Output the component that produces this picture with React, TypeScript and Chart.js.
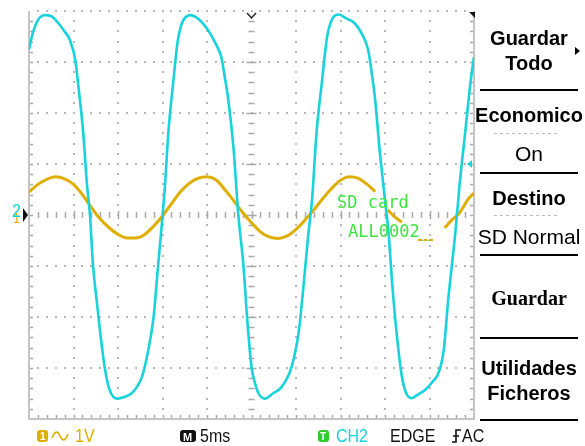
import React, { useEffect, useRef } from "react";
import { Chart, registerables } from "chart.js";
Chart.register(...registerables);

// ---- Data (time in ms, amplitude in screen divisions) ----
const cyanTimes = [0, 0.4, 0.8, 1.2, 1.8, 2.5, 3.3, 4.0, 4.6, 5.2, 5.5, 6.1, 6.5, 6.85, 7.2, 7.6, 8.0, 8.5, 9.0, 9.5, 10.0, 10.7, 11.5, 12.2, 12.7, 13.4, 14.0, 14.5, 14.9, 15.3, 15.65, 16.2, 16.7, 17.1, 17.5, 18.1, 19.0, 20.1, 21.0, 21.6, 22.0, 22.4, 23.0, 23.5, 24.1, 24.5, 25.0, 25.4, 25.8, 26.5, 27.4, 28.4, 29.5, 30.3, 30.8, 31.4, 31.8, 32.3, 32.9, 33.5, 33.9, 34.3, 34.8, 35.7, 36.6, 37.4, 38.1, 38.5, 38.9, 39.4, 40.0, 40.4, 40.8, 41.3, 41.9, 42.4, 43.0, 43.7, 44.5, 45.3, 46.0, 46.6, 47.1, 47.9, 48.4, 49.0, 49.6, 50.0];
const cyanDivs = [3.25, 3.55, 3.75, 3.87, 3.92, 3.9, 3.76, 3.6, 3.43, 3.04, 2.6, 1.6, 0.63, 0.0, -1.0, -1.67, -2.3, -2.98, -3.4, -3.57, -3.6, -3.57, -3.5, -3.35, -3.17, -2.65, -2.0, -1.0, -0.23, 0.63, 1.6, 2.59, 3.4, 3.72, 3.86, 3.92, 3.85, 3.63, 3.35, 3.1, 2.7, 2.25, 1.27, 0.04, -1.0, -2.0, -2.98, -3.3, -3.5, -3.6, -3.5, -3.37, -2.98, -2.3, -1.47, -0.35, 0.29, 1.6, 2.59, 3.5, 3.78, 3.9, 3.93, 3.85, 3.76, 3.55, 3.24, 2.8, 2.25, 1.27, 0.29, -0.35, -1.33, -2.3, -3.17, -3.5, -3.59, -3.52, -3.43, -3.28, -3.1, -2.65, -1.67, -0.35, 0.63, 1.6, 2.59, 3.1];

const yellowTimes = [0, 1, 2, 3, 4, 5, 6, 7, 8, 9, 10, 11, 12, 13, 14, 15, 16, 17, 18, 19, 20, 21, 22, 23, 24, 25, 26, 27, 28, 29, 30, 31, 32, 33, 34, 35, 36, 37, 38, 38.9, 39.6, 40.3, 41.0, 41.9, 44.0, 46.7, 47.5, 48.4, 49.3, 50.0];
const yellowDivs = [0.45, 0.6, 0.7, 0.75, 0.71, 0.6, 0.4, 0.15, -0.08, -0.25, -0.38, -0.45, -0.45, -0.38, -0.22, -0.02, 0.22, 0.45, 0.62, 0.72, 0.75, 0.69, 0.5, 0.28, 0.05, -0.15, -0.33, -0.43, -0.46, -0.41, -0.28, -0.1, 0.1, 0.32, 0.52, 0.68, 0.75, 0.72, 0.6, 0.46, null, 0.1, -0.02, -0.14, null, -0.25, -0.1, 0.05, 0.3, 0.43];

const triggerLevel = 1.0;
const menuBold = ["Guardar", "Todo", "Economico", "Destino", "Utilidades", "Ficheros"];
const menuValues = ["On", "SD Normal"];
const menuSerif = "Guardar";
const statusTexts = ["1V", "5ms", "CH2", "EDGE", "AC"];
const overlayTexts = ["SD card", "ALL0002_"];

const CYAN = "#18d2dc";
const YELLOW = "#e0ae00";
const GREEN = "#3ee63e";

function stretchText(ctx: CanvasRenderingContext2D, s: string, x: number, y: number, sy: number) {
  ctx.save();
  ctx.translate(x, y);
  ctx.scale(1, sy);
  ctx.fillText(s, 0, 0);
  ctx.restore();
}

const scopePlugin = {
  id: "scope",
  beforeDatasetsDraw(chart: any) {
    const { ctx, chartArea, scales } = chart;
    const { left, right, top, bottom } = chartArea;
    const xs = scales.x;
    const ys = scales.y;
    ctx.save();
    ctx.fillStyle = "#fff";
    ctx.fillRect(0, 0, chart.width, chart.height);
    // dotted major lines
    ctx.fillStyle = "#b8b8b8";
    for (let v = -3; v <= 4; v++) {
      if (v === 0) continue;
      const py = Math.round(ys.getPixelForValue(v));
      for (let t = 1; t < 50; t++) {
        const px = Math.round(xs.getPixelForValue(t));
        ctx.fillRect(px - 1, py - 1, 2, 2);
      }
    }
    for (let t = 5; t <= 45; t += 5) {
      if (t === 25) continue;
      const px = Math.round(xs.getPixelForValue(t));
      for (let k = -19; k <= 20; k++) {
        const py = Math.round(ys.getPixelForValue(k * 0.2));
        ctx.fillRect(px - 1, py - 1, 2, 2);
      }
    }
    // centre axes with tick marks
    ctx.strokeStyle = "#a8a8a8";
    ctx.lineWidth = 1.5;
    const cy = ys.getPixelForValue(0);
    const cx = xs.getPixelForValue(25);
    ctx.beginPath();
    for (let t = 1; t < 50; t++) {
      const px = Math.round(xs.getPixelForValue(t)) + 0.5;
      const h = t % 5 === 0 ? 4 : 3;
      ctx.moveTo(px, cy - h);
      ctx.lineTo(px, cy + h);
    }
    for (let k = -19; k <= 19; k++) {
      const py = Math.round(ys.getPixelForValue(k * 0.2)) + 0.5;
      const w = k % 5 === 0 ? 5 : 3;
      ctx.moveTo(cx - w, py);
      ctx.lineTo(cx + w, py);
    }
    // border ticks
    for (let k = -19; k <= 19; k++) {
      const py = Math.round(ys.getPixelForValue(k * 0.2)) + 0.5;
      ctx.moveTo(left, py);
      ctx.lineTo(left + 4, py);
      ctx.moveTo(right, py);
      ctx.lineTo(right - 4, py);
    }
    for (let t = 1; t < 50; t++) {
      const px = Math.round(xs.getPixelForValue(t)) + 0.5;
      ctx.moveTo(px, bottom);
      ctx.lineTo(px, bottom - 4);
    }
    ctx.stroke();
    // solid borders
    ctx.strokeStyle = "#c4c4c4";
    ctx.lineWidth = 2;
    ctx.beginPath();
    ctx.moveTo(left, top);
    ctx.lineTo(left, bottom);
    ctx.lineTo(right, bottom);
    ctx.lineTo(right, top);
    ctx.stroke();
    ctx.restore();
  },
  afterDatasetsDraw(chart: any) {
    const { ctx, chartArea, scales } = chart;
    const { left, right, top } = chartArea;
    const xs = scales.x;
    const ys = scales.y;
    ctx.save();
    // trigger position chevron
    const cx = xs.getPixelForValue(25);
    ctx.strokeStyle = "#222";
    ctx.lineWidth = 1.5;
    ctx.beginPath();
    ctx.moveTo(cx - 4.5, top + 2);
    ctx.lineTo(cx, top + 7);
    ctx.lineTo(cx + 4.5, top + 2);
    ctx.stroke();
    // top right corner marker
    ctx.fillStyle = "#111";
    ctx.beginPath();
    ctx.moveTo(right - 5, top + 1);
    ctx.lineTo(right + 1, top + 1);
    ctx.lineTo(right + 1, top + 7);
    ctx.closePath();
    ctx.fill();
    // trigger level marker
    const ty = ys.getPixelForValue(triggerLevel);
    ctx.fillStyle = CYAN;
    ctx.beginPath();
    ctx.moveTo(right - 7, ty);
    ctx.lineTo(right - 2, ty - 4);
    ctx.lineTo(right - 2, ty + 4);
    ctx.closePath();
    ctx.fill();
    // channel ground markers
    const gy = ys.getPixelForValue(0);
    ctx.font = '13px "Liberation Sans"';
    ctx.fillStyle = YELLOW;
    stretchText(ctx, "1", 13, gy + 8, 1.1);
    ctx.font = '16px "Liberation Sans"';
    ctx.fillStyle = CYAN;
    stretchText(ctx, "2", 12, gy + 2, 1.2);
    ctx.fillStyle = "#111";
    ctx.beginPath();
    ctx.moveTo(left - 6, gy - 7);
    ctx.lineTo(left - 1, gy);
    ctx.lineTo(left - 6, gy + 7);
    ctx.closePath();
    ctx.fill();

    // SD card overlay
    ctx.fillStyle = GREEN;
    ctx.font = '17px "DejaVu Sans Mono"';
    ctx.textAlign = "left";
    ctx.fillText(overlayTexts[0], 337, 208);
    ctx.fillText(overlayTexts[1], 348, 237);
    ctx.fillStyle = YELLOW;
    ctx.fillRect(418, 239, 4, 2);
    ctx.fillRect(424, 239, 3, 2);
    ctx.fillRect(429, 239, 4, 2);

    // right menu panel
    const mx = 529;
    ctx.fillStyle = "#000";
    ctx.textAlign = "center";
    ctx.font = 'bold 20px "Liberation Sans"';
    ctx.fillText(menuBold[0], mx, 45);
    ctx.fillText(menuBold[1], mx, 70);
    ctx.fillText(menuBold[2], mx, 122);
    ctx.fillText(menuBold[3], mx, 205);
    ctx.fillText(menuBold[4], mx, 375);
    ctx.fillText(menuBold[5], mx, 400);
    ctx.font = '21px "Liberation Sans"';
    ctx.fillText(menuValues[0], mx, 161);
    ctx.fillText(menuValues[1], mx, 244);
    ctx.font = 'bold 20px "Liberation Serif"';
    ctx.fillText(menuSerif, mx, 305);
    ctx.beginPath();
    ctx.moveTo(575, 47);
    ctx.lineTo(580, 51);
    ctx.lineTo(575, 55);
    ctx.closePath();
    ctx.fill();
    for (const sy of [90, 173, 255, 338, 420]) ctx.fillRect(480, sy - 1, 98, 2);
    ctx.fillStyle = "#b8b8b8";
    for (const sy of [133, 215]) {
      for (let xx = 494; xx < 560; xx += 6) ctx.fillRect(xx, sy, 3, 1);
    }

    // status bar
    ctx.textAlign = "left";
    const by = 442;
    ctx.fillStyle = YELLOW;
    ctx.beginPath();
    ctx.roundRect(37, 430, 11, 12, 3);
    ctx.fill();
    ctx.fillStyle = "#fff";
    ctx.font = 'bold 10px "Liberation Sans"';
    ctx.fillText("1", 40, 440);
    ctx.strokeStyle = YELLOW;
    ctx.lineWidth = 1.6;
    ctx.beginPath();
    ctx.moveTo(52, 438);
    ctx.bezierCurveTo(55, 430, 58, 431, 60, 436);
    ctx.bezierCurveTo(62, 441, 65, 442, 68, 434);
    ctx.stroke();
    ctx.fillStyle = YELLOW;
    ctx.font = '16px "Liberation Sans"';
    stretchText(ctx, statusTexts[0], 75, by, 1.15);
    ctx.fillStyle = "#111";
    ctx.beginPath();
    ctx.roundRect(180, 430, 16, 12, 3);
    ctx.fill();
    ctx.fillStyle = "#fff";
    ctx.font = 'bold 11px "Liberation Sans"';
    ctx.fillText("M", 183, 441);
    ctx.fillStyle = "#111";
    ctx.font = '16px "Liberation Sans"';
    stretchText(ctx, statusTexts[1], 200, by, 1.15);
    ctx.fillStyle = "#2ecc2e";
    ctx.beginPath();
    ctx.roundRect(318, 430, 11, 12, 3);
    ctx.fill();
    ctx.fillStyle = "#fff";
    ctx.font = 'bold 10px "Liberation Sans"';
    ctx.fillText("T", 320, 440);
    ctx.font = '16px "Liberation Sans"';
    ctx.fillStyle = CYAN;
    stretchText(ctx, statusTexts[2], 336, by, 1.15);
    ctx.fillStyle = "#111";
    stretchText(ctx, statusTexts[3], 390, by, 1.15);
    ctx.strokeStyle = "#111";
    ctx.lineWidth = 1.6;
    ctx.beginPath();
    ctx.moveTo(452, by);
    ctx.lineTo(456, by);
    ctx.lineTo(456, 430);
    ctx.lineTo(461, 430);
    ctx.moveTo(453, 436);
    ctx.lineTo(459, 436);
    ctx.stroke();
    stretchText(ctx, statusTexts[4], 462, by, 1.15);
    ctx.restore();
  },
};

export default function App() {
  const ref = useRef<HTMLCanvasElement | null>(null);
  useEffect(() => {
    if (!ref.current) return;
    const cyanPoints = cyanTimes.map((t, i) => ({ x: t, y: cyanDivs[i] }));
    const yellowPoints = yellowTimes.map((t, i) => ({ x: t, y: yellowDivs[i] }));
    const chart = new Chart(ref.current, {
      type: "line",
      data: {
        datasets: [
          {
            label: "CH2",
            data: cyanPoints as any,
            borderColor: CYAN,
            borderWidth: 2.6,
            pointRadius: 0,
            cubicInterpolationMode: "monotone",
          },
          {
            label: "CH1",
            data: yellowPoints as any,
            borderColor: YELLOW,
            borderWidth: 3,
            pointRadius: 0,
            spanGaps: false,
            cubicInterpolationMode: "monotone",
          },
        ],
      },
      options: {
        responsive: false,
        animation: false,
        devicePixelRatio: 1,
        layout: { padding: { left: 29, top: 11, right: 111, bottom: 27 } },
        scales: {
          x: { type: "linear", min: 0, max: 50, display: false },
          y: { type: "linear", min: -4, max: 4, display: false },
        },
        plugins: { legend: { display: false }, tooltip: { enabled: false } },
        events: [],
      },
      plugins: [scopePlugin],
    });
    return () => chart.destroy();
  }, []);
  return (
    <div style={{ position: "fixed", left: 0, top: 0, width: 585, height: 446, background: "#fff" }}>
      <canvas ref={ref} width={585} height={446} style={{ display: "block" }} />
    </div>
  );
}
